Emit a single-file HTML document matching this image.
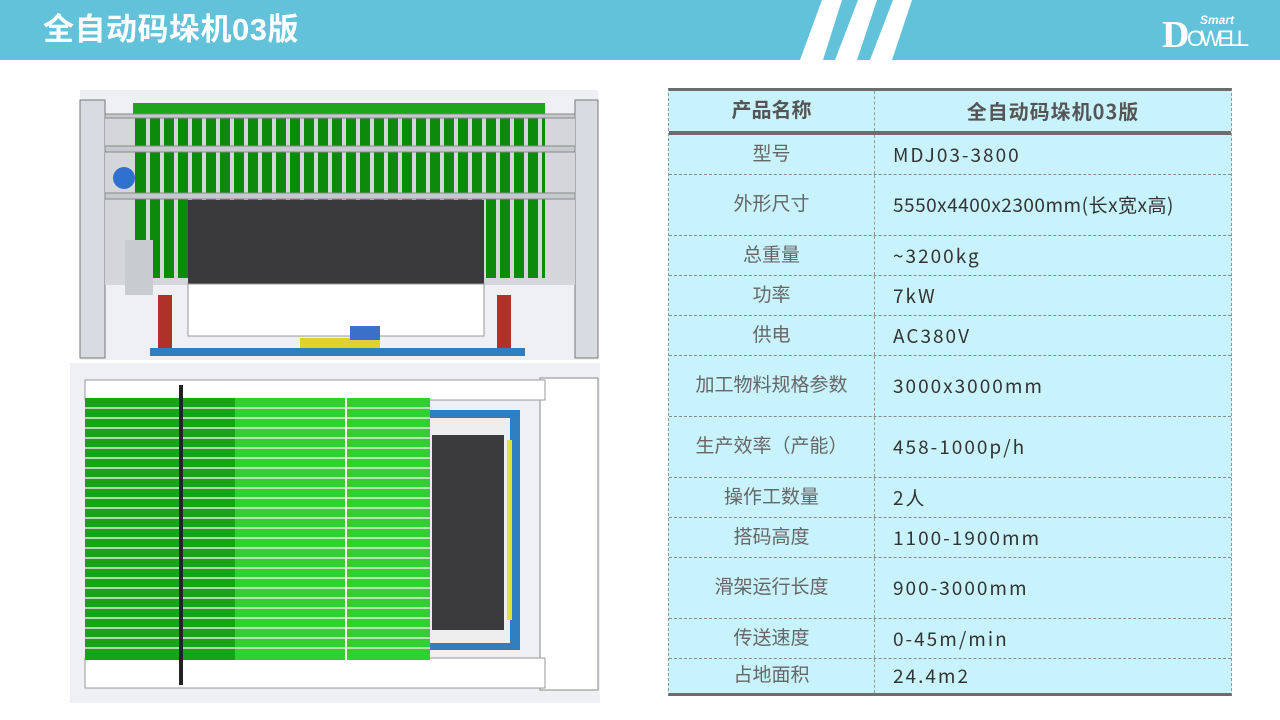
<!DOCTYPE html>
<html><head><meta charset="utf-8"><style>
*{margin:0;padding:0;box-sizing:border-box}
body{width:1280px;height:720px;background:#fff;position:relative;overflow:hidden;font-family:"Liberation Sans","Noto Sans CJK SC",sans-serif}
#hdr{position:absolute;left:0;top:0;width:1280px;height:60px;background:#62c2da}
#title{position:absolute;left:43px;top:11px;font-size:31px;font-weight:bold;color:#fff;line-height:38px;letter-spacing:0.5px}
.tbl{position:absolute;left:668px;top:88px;width:564px;height:608px;background:#c9f3fc;border-top:3px solid #6d6d6d;border-bottom:3px solid #6d6d6d;border-left:1px dashed #999;border-right:1px dashed #999}
.row{position:absolute;left:0;width:562px;border-bottom:1px dashed #8a8a8a}
.row .l,.row .v{line-height:24px}
.row .l span,.row .v span{display:block;line-height:24px;height:24px}
.row .l{position:absolute;left:0;width:206px;top:0;bottom:0;display:flex;align-items:center;justify-content:center;font-size:19px;color:#666;border-right:1px dashed #999}
.row .v{position:absolute;left:224px;top:0;bottom:0;display:flex;align-items:center;font-size:19px;color:#333;letter-spacing:2px;font-family:"Noto Sans CJK SC",sans-serif}
.hd .l,.hd .v{font-weight:bold;color:#555;font-size:20px}
.hd .v{left:206px;right:0;justify-content:center;letter-spacing:1px}
.hd{border-bottom:4px solid #6d6d6d}
</style></head><body>
<div id="hdr">
<svg width="1280" height="60" style="position:absolute;left:0;top:0">
<polygon points="822,0 842,0 823,60 800,60" fill="#fff"/>
<polygon points="858,0 877,0 857,60 835,60" fill="#fff"/>
<polygon points="893,0 912,0 892,60 870,60" fill="#fff"/>
<text x="1162" y="47" font-family="Liberation Serif" font-weight="bold" font-size="38" fill="#fff">D</text>
<text x="1200" y="24" font-family="Liberation Sans" font-style="italic" font-weight="bold" font-size="12" fill="#fff">Smart</text>
<text x="1187" y="46" font-family="Liberation Sans Narrow, Liberation Sans" font-size="22" fill="#fff" textLength="62">OWELL</text>
</svg>
<div id="title">全自动码垛机03版</div>
</div>

<svg width="540" height="620" style="position:absolute;left:65px;top:88px" viewBox="65 88 540 620">
<rect x="80" y="90" width="518" height="270" fill="#eef0f3"/>
<rect x="80" y="100" width="25" height="258" fill="#d8dce2" stroke="#777" stroke-width="1"/>
<rect x="575" y="100" width="23" height="258" fill="#d8dce2" stroke="#777" stroke-width="1"/>
<rect x="105" y="115" width="470" height="170" fill="#d4d6da"/>
<rect x="133" y="103" width="412" height="11" fill="#1aa51a"/>
<rect x="135" y="118" width="410" height="160" fill="#0c8a0c"/>
<g stroke="#d4d6da" stroke-width="4">
<line x1="148" y1="118" x2="148" y2="278"/><line x1="162" y1="118" x2="162" y2="278"/><line x1="176" y1="118" x2="176" y2="278"/><line x1="190" y1="118" x2="190" y2="278"/><line x1="204" y1="118" x2="204" y2="200"/><line x1="218" y1="118" x2="218" y2="200"/><line x1="232" y1="118" x2="232" y2="200"/><line x1="246" y1="118" x2="246" y2="200"/><line x1="260" y1="118" x2="260" y2="200"/><line x1="274" y1="118" x2="274" y2="200"/><line x1="288" y1="118" x2="288" y2="200"/><line x1="302" y1="118" x2="302" y2="200"/><line x1="316" y1="118" x2="316" y2="200"/><line x1="330" y1="118" x2="330" y2="200"/><line x1="344" y1="118" x2="344" y2="200"/><line x1="358" y1="118" x2="358" y2="200"/><line x1="372" y1="118" x2="372" y2="200"/><line x1="386" y1="118" x2="386" y2="200"/><line x1="400" y1="118" x2="400" y2="200"/><line x1="414" y1="118" x2="414" y2="200"/><line x1="428" y1="118" x2="428" y2="200"/><line x1="442" y1="118" x2="442" y2="200"/><line x1="456" y1="118" x2="456" y2="200"/><line x1="470" y1="118" x2="470" y2="200"/><line x1="484" y1="118" x2="484" y2="278"/><line x1="498" y1="118" x2="498" y2="278"/><line x1="512" y1="118" x2="512" y2="278"/><line x1="526" y1="118" x2="526" y2="278"/><line x1="540" y1="118" x2="540" y2="278"/>
</g>
<rect x="105" y="146" width="470" height="6" fill="#c6cad0" stroke="#888" stroke-width="1"/>
<rect x="105" y="193" width="470" height="6" fill="#c6cad0" stroke="#888" stroke-width="1"/>
<rect x="105" y="114" width="470" height="4" fill="#c6cad0" stroke="#888" stroke-width="1"/>
<rect x="188" y="200" width="296" height="84" fill="#3a3a3c"/>
<circle cx="124" cy="178" r="11" fill="#3070d0"/>
<rect x="125" y="240" width="28" height="55" fill="#c8ccd0"/>
<rect x="188" y="284" width="296" height="52" fill="#fff" stroke="#999"/>
<rect x="158" y="295" width="14" height="55" fill="#b0302a"/>
<rect x="497" y="295" width="14" height="55" fill="#b0302a"/>
<rect x="150" y="348" width="375" height="8" fill="#2f7fc0"/>
<rect x="300" y="338" width="80" height="10" fill="#e0d030"/>
<rect x="350" y="326" width="30" height="14" fill="#3a70c8"/>
<rect x="70" y="363" width="530" height="340" fill="#eef0f3"/>
<rect x="540" y="378" width="58" height="312" fill="#fff" stroke="#888"/>
<rect x="85" y="380" width="460" height="20" fill="#fff" stroke="#999"/>
<rect x="85" y="658" width="460" height="30" fill="#fff" stroke="#999"/>
<rect x="420" y="410" width="100" height="240" fill="#2f7fc0"/>
<rect x="425" y="418" width="85" height="225" fill="#eee"/>
<rect x="432" y="435" width="72" height="195" fill="#3b3b3e"/>
<rect x="507" y="440" width="5" height="180" fill="#e0e040"/>
<rect x="85" y="398" width="150" height="262" fill="#17a517"/>
<rect x="235" y="398" width="195" height="262" fill="#2fd02f"/>
<g stroke="#dfe8df" stroke-width="1.6">
<line x1="85" y1="408" x2="430" y2="408"/><line x1="85" y1="418" x2="430" y2="418"/><line x1="85" y1="428" x2="430" y2="428"/><line x1="85" y1="438" x2="430" y2="438"/><line x1="85" y1="448" x2="430" y2="448"/><line x1="85" y1="458" x2="430" y2="458"/><line x1="85" y1="468" x2="430" y2="468"/><line x1="85" y1="478" x2="430" y2="478"/><line x1="85" y1="488" x2="430" y2="488"/><line x1="85" y1="498" x2="430" y2="498"/><line x1="85" y1="508" x2="430" y2="508"/><line x1="85" y1="518" x2="430" y2="518"/><line x1="85" y1="528" x2="430" y2="528"/><line x1="85" y1="538" x2="430" y2="538"/><line x1="85" y1="548" x2="430" y2="548"/><line x1="85" y1="558" x2="430" y2="558"/><line x1="85" y1="568" x2="430" y2="568"/><line x1="85" y1="578" x2="430" y2="578"/><line x1="85" y1="588" x2="430" y2="588"/><line x1="85" y1="598" x2="430" y2="598"/><line x1="85" y1="608" x2="430" y2="608"/><line x1="85" y1="618" x2="430" y2="618"/><line x1="85" y1="628" x2="430" y2="628"/><line x1="85" y1="638" x2="430" y2="638"/><line x1="85" y1="648" x2="430" y2="648"/>
</g>
<rect x="179" y="385" width="4" height="300" fill="#222"/>
<line x1="346" y1="385" x2="346" y2="665" stroke="#fff" stroke-width="2"/>
</svg>

<div class="tbl">
<div class="row hd" style="top:0;height:44px"><div class="l"><span>产品名称</span></div><div class="v"><span>全自动码垛机03版</span></div></div>
<div class="row" style="top:44px;height:40px"><div class="l"><span>型号</span></div><div class="v"><span>MDJ03-3800</span></div></div>
<div class="row" style="top:84px;height:61px"><div class="l"><span>外形尺寸</span></div><div class="v" style="letter-spacing:0.5px"><span>5550x4400x2300mm(长x宽x高)</span></div></div>
<div class="row" style="top:145px;height:40px"><div class="l"><span>总重量</span></div><div class="v"><span>~3200kg</span></div></div>
<div class="row" style="top:185px;height:40px"><div class="l"><span>功率</span></div><div class="v"><span>7kW</span></div></div>
<div class="row" style="top:225px;height:40px"><div class="l"><span>供电</span></div><div class="v"><span>AC380V</span></div></div>
<div class="row" style="top:265px;height:61px"><div class="l"><span>加工物料规格参数</span></div><div class="v"><span>3000x3000mm</span></div></div>
<div class="row" style="top:326px;height:61px"><div class="l"><span>生产效率（产能）</span></div><div class="v"><span>458-1000p/h</span></div></div>
<div class="row" style="top:387px;height:40px"><div class="l"><span>操作工数量</span></div><div class="v"><span>2人</span></div></div>
<div class="row" style="top:427px;height:40px"><div class="l"><span>搭码高度</span></div><div class="v"><span>1100-1900mm</span></div></div>
<div class="row" style="top:467px;height:61px"><div class="l"><span>滑架运行长度</span></div><div class="v"><span>900-3000mm</span></div></div>
<div class="row" style="top:528px;height:40px"><div class="l"><span>传送速度</span></div><div class="v"><span>0-45m/min</span></div></div>
<div class="row" style="top:568px;height:34px;border-bottom:none"><div class="l"><span>占地面积</span></div><div class="v"><span>24.4m2</span></div></div>
</div>
</body></html>
